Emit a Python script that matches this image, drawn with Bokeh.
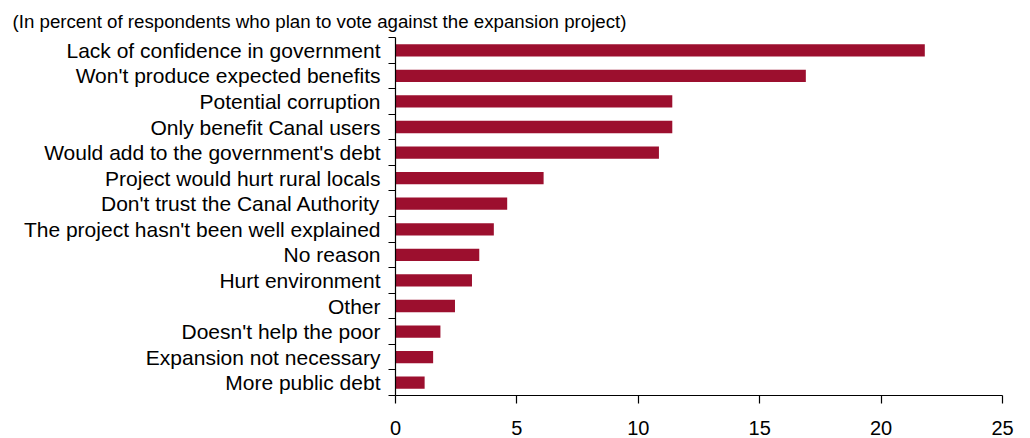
from bokeh.plotting import figure
from bokeh.models import ColumnDataSource, FixedTicker, Range1d
from bokeh.embed import file_html
from bokeh.resources import INLINE

categories = [
    "Lack of confidence in government",
    "Won't produce expected benefits",
    "Potential corruption",
    "Only benefit Canal users",
    "Would add to the government's debt",
    "Project would hurt rural locals",
    "Don't trust the Canal Authority",
    "The project hasn't been well explained",
    "No reason",
    "Hurt environment",
    "Other",
    "Doesn't help the poor",
    "Expansion not necessary",
    "More public debt",
]
values = [21.8, 16.9, 11.4, 11.4, 10.85, 6.1, 4.6, 4.05, 3.45, 3.15, 2.45, 1.85, 1.55, 1.2]
x_ticks = [0, 5, 10, 15, 20, 25]
title_text = "(In percent of respondents who plan to vote against the expansion project)"

n = len(categories)
ypos = [n - 0.5 - i for i in range(n)]
src = ColumnDataSource(dict(y=ypos, v=values, cat=categories))

FONT = "Liberation Sans"
BAR = "#9C0F2E"

p = figure(width=1030, height=438, output_backend="svg", toolbar_location=None,
           x_range=Range1d(0, 25), y_range=Range1d(0, n),
           min_border_left=395, min_border_right=28, min_border_top=37, min_border_bottom=43)
p.outline_line_color = None
p.xgrid.grid_line_color = None
p.ygrid.grid_line_color = None
p.background_fill_color = "white"
p.border_fill_color = "white"

p.title.text = title_text
p.title.align = "left"
p.title.offset = -383
p.title.standoff = 12
p.title.text_font = FONT
p.title.text_font_size = "18.7px"
p.title.text_font_style = "normal"
p.title.text_color = "black"

p.hbar(y="y", right="v", left=0, height=0.48, source=src, color=BAR, line_color=None)

xa = p.xaxis[0]
xa.ticker = FixedTicker(ticks=x_ticks)
xa.minor_tick_line_color = None
xa.major_tick_in = 0
xa.major_tick_out = 8
xa.major_label_standoff = 17
xa.major_label_text_font = FONT
xa.major_label_text_font_size = "20px"
xa.major_label_text_color = "black"
xa.axis_line_color = "black"
xa.major_tick_line_color = "black"
xa.axis_line_width = 1.2
xa.major_tick_line_width = 1.2

ya = p.yaxis[0]
ya.ticker = FixedTicker(ticks=ypos, minor_ticks=list(range(n + 1)))
ya.major_label_overrides = {float(y): c for y, c in zip(ypos, categories)}
ya.major_tick_in = 0
ya.major_tick_out = 0
ya.minor_tick_in = 0
ya.minor_tick_out = 7
ya.minor_tick_line_color = "black"
ya.minor_tick_line_width = 1.2
ya.major_label_standoff = 8
ya.major_label_text_font = FONT
ya.major_label_text_font_size = "21px"
ya.major_label_text_color = "black"
ya.axis_line_color = "black"
ya.axis_line_width = 1.2

open("out.html", "w").write(file_html(p, INLINE))
